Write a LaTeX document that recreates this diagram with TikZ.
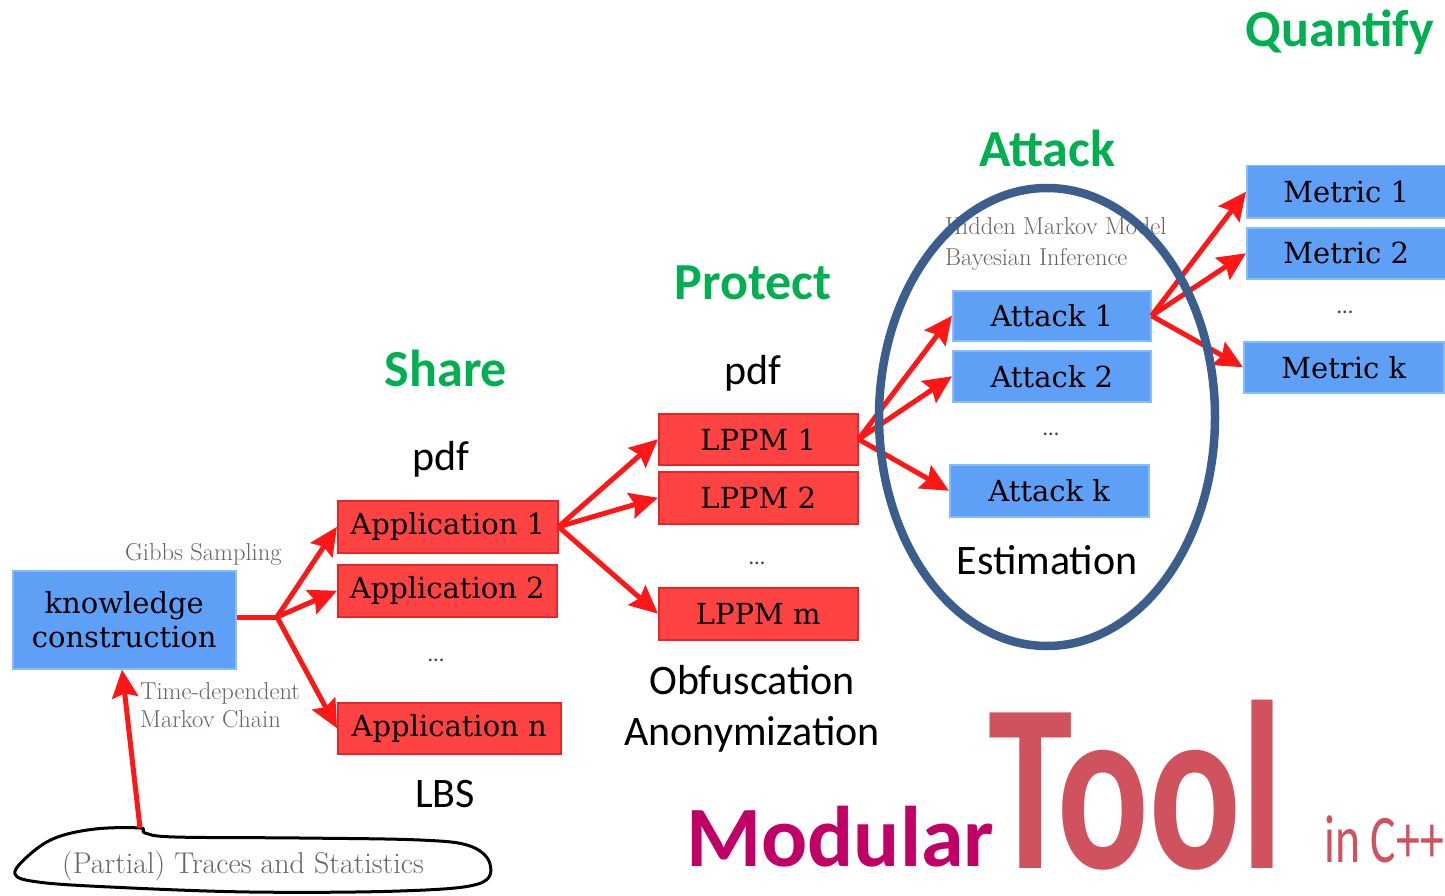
\documentclass[tikz,border=0pt]{standalone}
\usepackage{fontspec}
\usepackage{graphicx}
\usetikzlibrary{arrows.meta}
\setmainfont{Carlito}
\newfontfamily\boxfont{DejaVu Serif}
\newfontfamily\notefont{Latin Modern Roman}

\definecolor{boxblue}{RGB}{94,160,245}
\definecolor{boxblueedge}{RGB}{135,188,250}
\definecolor{boxred}{RGB}{255,66,66}
\definecolor{boxrededge}{RGB}{228,38,38}
\definecolor{arrowred}{RGB}{255,22,22}
\definecolor{stagegreen}{RGB}{0,176,80}
\definecolor{ringblue}{RGB}{59,94,140}
\definecolor{notegray}{RGB}{108,98,98}
\definecolor{modmagenta}{RGB}{192,0,102}
\definecolor{toolred}{RGB}{208,82,94}

\tikzset{
  boxbase/.style={line width=1.5pt, inner sep=0pt, anchor=north west,
    font=\boxfont\fontsize{29}{34}\selectfont, align=center},
  bluebox/.style={boxbase, draw=boxblueedge, fill=boxblue},
  redbox/.style={boxbase, draw=boxrededge, fill=boxred},
  flow/.style={arrowred, line width=5pt, line join=round,
    -{Stealth[length=28pt,width=26pt,inset=4pt]}},
  stage/.style={text=stagegreen, anchor=base, inner sep=0pt,
    font=\bfseries\fontsize{52}{60}\selectfont},
  caption/.style={text=black, anchor=base, inner sep=0pt,
    font=\fontsize{42}{48}\selectfont},
  note/.style={text=notegray, anchor=base west, inner sep=0pt,
    font=\notefont\fontsize{24.5}{28}\selectfont},
  dots/.style={text=black!75, inner sep=0pt, font=\fontsize{22}{24}\selectfont}
}

\begin{document}
\begin{tikzpicture}[x=1pt,y=-1pt]
\useasboundingbox (0,0) rectangle (1445,896);

% ---- stage headings ----
\node[stage] (quantify) at (1340,47) {Quantify};
\node[stage] (attack)   at (1047,167) {Attack};
\node[stage] (protect)  at (753,299) {Protect};
\node[stage] (share)    at (446,386) {Share};

% ---- captions ----
\node[caption] (pdfshare)   at (441,470) {pdf};
\node[caption] (pdfprotect) at (753,384) {pdf};
\node[caption] (lbs)        at (445,807) {LBS};
\node[caption] (obf)        at (752,694) {Obfuscation};
\node[caption] (anon)       at (752,745) {Anonymization};
\node[caption] (estim)      at (1047,574) {Estimation};

% ---- knowledge construction ----
\node[bluebox, minimum width=223pt, minimum height=98pt] (kc) at (12,570)
  {knowledge\\construction};
\node[note] (gibbs) at (125,560) {Gibbs Sampling};
\node[note] (tdmc1) at (140,699) {Time-dependent};
\node[note] (tdmc2) at (140,727) {Markov Chain};

% ---- applications ----
\node[redbox, minimum width=220pt, minimum height=52pt] (app1) at (337,500) {Application 1};
\node[redbox, minimum width=219pt, minimum height=52pt] (app2) at (337,564) {Application 2};
\node[dots] (appdots) at (436,660) {...};
\node[redbox, minimum width=223pt, minimum height=51pt] (appn) at (337,702) {Application n};

% ---- LPPMs ----
\node[redbox, minimum width=199pt, minimum height=51pt] (lppm1) at (658,413) {LPPM 1};
\node[redbox, minimum width=199pt, minimum height=52pt] (lppm2) at (658,471) {LPPM 2};
\node[dots] (lppmdots) at (757,563) {...};
\node[redbox, minimum width=199pt, minimum height=52pt] (lppmm) at (658,587) {LPPM m};

% ---- attacks ----
\node[bluebox, minimum width=198pt, minimum height=50pt] (att1) at (952,290) {Attack 1};
\node[bluebox, minimum width=198pt, minimum height=51pt] (att2) at (952,350) {Attack 2};
\node[dots] (attdots) at (1051,434) {...};
\node[bluebox, minimum width=199pt, minimum height=52pt] (attk) at (949,464) {Attack k};
\node[note] (hmm) at (945,234) {Hidden Markov Model};
\node[note] (bayes) at (945,265) {Bayesian Inference};

% ---- metrics ----
\node[bluebox, minimum width=199pt, minimum height=52pt] (met1) at (1246,165) {Metric 1};
\node[bluebox, minimum width=199pt, minimum height=51pt] (met2) at (1246,227) {Metric 2};
\node[dots] (metdots) at (1345,312) {...};
\node[bluebox, minimum width=200pt, minimum height=51pt] (metk) at (1243,341) {Metric k};

% ---- traces (hand drawn outline) ----
\coordinate (tracetop) at (140,828);
\draw[black, line width=3pt, line join=round]
  plot[smooth cycle, tension=0.6] coordinates {
    (140,828) (95,829) (55,838) (28,856) (15,874) (38,882) (110,887)
    (250,892) (400,891) (478,884) (490,864) (470,846) (420,840)
    (300,838) (175,837) (145,833)};
\node[note, anchor=center, font=\notefont\fontsize{30}{33}\selectfont] (traces) at (243,866)
  {(Partial) Traces and Statistics};

% ---- connectors ----
\coordinate (split) at (277,617);
\draw[arrowred, line width=5pt] (kc.east |- split) -- (split);
\draw[flow] (split) -- (app1.west);
\draw[flow] (split) -- (app2.west);
\draw[flow] (split) -- (appn.west);
\draw[flow] (tracetop) -- (kc.south -| 122,0);

\draw[flow] (app1.east) -- (lppm1.west);
\draw[flow] (app1.east) -- (lppm2.west);
\draw[flow] (app1.east) -- (lppmm.west);

\draw[flow] (lppm1.east) -- (att1.west);
\draw[flow] (lppm1.east) -- (att2.west);
\draw[flow] (lppm1.east) -- (attk.west);

\draw[flow] (att1.east) -- (met1.west);
\draw[flow] (att1.east) -- (met2.west);
\draw[flow] (att1.east) -- (metk.west);

% ---- estimation ring ----
\draw[ringblue, line width=8.5pt] (1047,417) ellipse [x radius=168, y radius=229];

% ---- title ----
\node[text=modmagenta, anchor=base west, inner sep=0pt,
  font=\bfseries\fontsize{86}{90}\selectfont] (modular) at (686,866) {Modular};
\node[text=toolred, anchor=base west, inner sep=0pt,
  font=\bfseries\fontsize{240}{242}\selectfont] (tool) at (988,868)
  {\scalebox{0.71}[1]{Tool}};
\node[text=toolred, anchor=base west, inner sep=0pt,
  font=\fontsize{68}{70}\selectfont] (cpp) at (1324,862)
  {\scalebox{0.70}[1]{in C++}};
\end{tikzpicture}
\end{document}
